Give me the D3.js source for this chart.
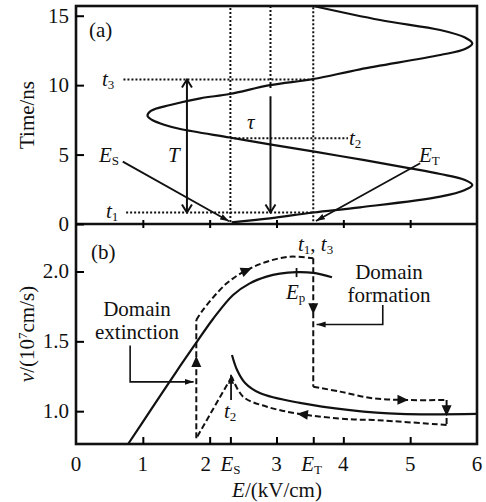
<!DOCTYPE html>
<html>
<head>
<meta charset="utf-8">
<script src="https://cdn.jsdelivr.net/npm/d3@7"></script>
<style>
  body { margin: 0; background: #fff; }
  svg text { font-family: "Liberation Serif", "DejaVu Serif", serif; fill: #111; }
</style>
</head>
<body>
<div class="container"></div>
<script>
// (a) field across the sample vs time
const fieldT = [0.12, 0.41, 0.83, 1.2, 1.97, 2.45, 2.81, 3.17, 3.6, 4.01, 4.9, 5.74, 6.23, 6.84, 7.13, 7.49, 7.78,
  8.14, 8.57, 9.05, 9.36, 10.0, 10.44, 11.14, 12.17, 12.6, 13.0, 13.43, 13.97, 14.69, 15.7];
const fieldE = [2.33, 2.9, 3.55, 4.25, 5.45, 5.82, 5.93, 5.82, 5.45, 5.0, 3.95, 2.9, 2.3, 1.56, 1.33, 1.14, 1.07,
  1.12, 1.41, 1.86, 2.3, 2.9, 3.55, 4.25, 5.45, 5.82, 5.93, 5.82, 5.45, 4.55, 3.55];

// (b) velocity-field characteristic, two solid branches
const riseE = [0.78, 1.107, 1.5, 1.8, 2.05, 2.35, 2.6, 2.85, 3.05, 3.3, 3.55, 3.83];
const riseV = [0.765, 1.0, 1.282, 1.49, 1.66, 1.832, 1.915, 1.963, 1.985, 1.995, 1.99, 1.959];
const lowE = [2.334, 2.41, 2.53, 2.75, 3.35, 4.1, 4.85, 6.0];
const lowV = [1.402, 1.295, 1.202, 1.13, 1.059, 1.008, 0.98, 0.98];

// (b) dashed operating path
const pathUpE = [1.8, 1.8, 1.9, 2.255, 2.555, 2.855, 3.2, 3.55, 3.55];
const pathUpV = [0.806, 1.653, 1.725, 1.915, 2.01, 2.07, 2.106, 2.094, 1.175];
const pathLowE = [3.55, 3.95, 4.45, 4.95, 5.545, 5.545, 4.45, 4.1, 3.35, 2.855, 2.5, 2.33, 1.8];
const pathLowV = [1.175, 1.14, 1.092, 1.08, 1.08, 0.901, 0.937, 0.942, 0.98, 1.032, 1.104, 1.247, 0.806];

const xTicks = [0, 1, 2, 3, 4, 5, 6];
const tTicks = [0, 5, 10, 15];
const vTicks = [1.0, 1.5, 2.0];
const Es = 2.31, Et = 3.55, Ep = 3.3;
const t1 = 0.83, t2 = 6.17, t3 = 10.4;

const width = 486, height = 502;
const svg = d3.select(".container").append("svg")
  .attr("width", width).attr("height", height);

const x = d3.scaleLinear().domain([0, 6]).range([76, 477]);
const yT = d3.scaleLinear().domain([0, 15.7]).range([224, 6]);
const yB = d3.scaleLinear().domain([0.765, 2.34]).range([444, 224]);

const defs = svg.append("defs");
defs.append("marker").attr("id", "open").attr("viewBox", "-10 -6 12 12")
  .attr("refX", 0).attr("refY", 0).attr("markerWidth", 12).attr("markerHeight", 12)
  .attr("markerUnits", "userSpaceOnUse").attr("orient", "auto-start-reverse")
  .append("path").attr("d", "M-8,-5 L0,0 L-8,5").attr("fill", "none")
  .attr("stroke", "#111").attr("stroke-width", 2);
defs.append("marker").attr("id", "solid").attr("viewBox", "-9 -4 10 8")
  .attr("refX", 0).attr("refY", 0).attr("markerWidth", 10).attr("markerHeight", 8)
  .attr("markerUnits", "userSpaceOnUse").attr("orient", "auto")
  .append("path").attr("d", "M-9,-3 L0,0 L-9,3 Z").attr("fill", "#111");

const ink = "#111";
const line = (g, pts, opts) => {
  const p = g.append("path").attr("d", d3.line()(pts)).attr("fill", "none")
    .attr("stroke", ink).attr("stroke-width", opts.w || 1.6);
  if (opts.dash) p.attr("stroke-dasharray", opts.dash);
  if (opts.end) p.attr("marker-end", `url(#${opts.end})`);
  if (opts.start) p.attr("marker-start", `url(#${opts.start})`);
  return p;
};
const tri = (px, py, qx, qy) => {
  const a = Math.atan2(qy - py, qx - px) * 180 / Math.PI;
  svg.append("path").attr("d", "M5,0 L-6,-5 L-6,5 Z").attr("fill", ink)
    .attr("transform", `translate(${px},${py}) rotate(${a})`);
};
const label = (g, px, py, parts, size, anchor) => {
  const t = g.append("text").attr("x", px).attr("y", py).attr("font-size", size || 16)
    .attr("text-anchor", anchor || "start");
  parts.forEach((p) => {
    const s = t.append("tspan").text(p.s);
    if (p.i) s.attr("font-style", "italic");
    if (p.sub) s.attr("font-size", (size || 16) * 0.62).attr("dy", 3);
    if (p.sup) s.attr("font-size", (size || 16) * 0.62).attr("dy", -7);
    if (p.dy) s.attr("dy", p.dy);
  });
  return t;
};

// ---------- panel (a) ----------
const ga = svg.append("g");
const dot = "2,2";
line(ga, [[x(Es), yT(0.15)], [x(Es), yT(15.7)]], { dash: dot, w: 2 });
line(ga, [[x(2.91), yT(15.7)], [x(2.91), yT(9.7)]], { dash: dot, w: 2 });
line(ga, [[x(Et), yT(0.2)], [x(Et), yT(15.7)]], { dash: dot, w: 2 });
line(ga, [[x(0.71), yT(t3)], [x(Et), yT(t3)]], { dash: dot, w: 2 });
line(ga, [[x(0.75), yT(t1)], [x(Et), yT(t1)]], { dash: dot, w: 2 });
line(ga, [[x(Es), yT(t2)], [x(4.07), yT(t2)]], { dash: dot, w: 2 });

ga.append("path")
  .attr("d", d3.line().x((d) => x(d[0])).y((d) => yT(d[1])).curve(d3.curveCatmullRom.alpha(0.5))(
    fieldE.map((e, i) => [e, fieldT[i]])))
  .attr("fill", "none").attr("stroke", ink).attr("stroke-width", 2.2);

// T and tau arrows
line(ga, [[x(1.66), yT(t1)], [x(1.66), yT(t3)]], { w: 2, start: "open", end: "open" });
line(ga, [[x(2.91), yT(9.2)], [x(2.91), yT(t1)]], { w: 2, end: "open" });
// E_S, E_T leaders
line(ga, [[x(0.7), yT(4.49)], [x(2.29), yT(0.2)]], { w: 1.8, end: "solid" });
line(ga, [[x(5.15), yT(4.37)], [x(3.59), yT(0.22)]], { w: 1.8, end: "solid" });

const fa = 21;
label(ga, 89, 37, [{ s: "(a)" }], fa);
label(ga, 99, 162, [{ s: "E", i: 1 }, { s: "S", sub: 1 }], fa);
label(ga, 419, 162, [{ s: "E", i: 1 }, { s: "T", sub: 1 }], fa);
label(ga, 102, 86, [{ s: "t", i: 1 }, { s: "3", sub: 1 }], fa);
label(ga, 106, 218, [{ s: "t", i: 1 }, { s: "1", sub: 1 }], fa);
label(ga, 349, 145, [{ s: "t", i: 1 }, { s: "2", sub: 1 }], fa);
label(ga, 168, 162, [{ s: "T", i: 1 }], fa);
label(ga, 247, 129, [{ s: "τ", i: 1 }], fa);

// ---------- panel (b) ----------
const gb = svg.append("g");
const lineB = d3.line().x((d) => x(d[0])).y((d) => yB(d[1]));
const smooth = lineB.curve(d3.curveCatmullRom.alpha(0.5));
gb.append("path").attr("d", smooth(riseE.map((e, i) => [e, riseV[i]])))
  .attr("fill", "none").attr("stroke", ink).attr("stroke-width", 2.2);
gb.append("path").attr("d", smooth(lowE.map((e, i) => [e, lowV[i]])))
  .attr("fill", "none").attr("stroke", ink).attr("stroke-width", 2.2);

const dash = "6,3";
const upPts = pathUpE.map((e, i) => [e, pathUpV[i]]);
line(gb, [[x(upPts[0][0]), yB(upPts[0][1])], [x(upPts[1][0]), yB(upPts[1][1])]], { dash: dash, w: 2 });
gb.append("path").attr("d", smooth(upPts.slice(1, 8)))
  .attr("fill", "none").attr("stroke", ink).attr("stroke-width", 2).attr("stroke-dasharray", dash);
line(gb, [[x(Et), yB(upPts[7][1])], [x(Et), yB(upPts[8][1])]], { dash: dash, w: 2 });

const lowPts = pathLowE.map((e, i) => [e, pathLowV[i]]);
gb.append("path").attr("d", smooth(lowPts.slice(0, 5)))
  .attr("fill", "none").attr("stroke", ink).attr("stroke-width", 2).attr("stroke-dasharray", dash);
line(gb, [[x(lowPts[4][0]), yB(lowPts[4][1])], [x(lowPts[5][0]), yB(lowPts[5][1])]], { dash: dash, w: 2 });
gb.append("path").attr("d", smooth(lowPts.slice(5, 12)))
  .attr("fill", "none").attr("stroke", ink).attr("stroke-width", 2).attr("stroke-dasharray", dash);
line(gb, [[x(lowPts[11][0]), yB(lowPts[11][1])], [x(lowPts[12][0]), yB(lowPts[12][1])]], { dash: dash, w: 2 });

// direction triangles on the dashed path
tri(x(1.8), yB(1.36), x(1.8), yB(1.6));
tri(x(2.56), yB(2.01), x(2.86), yB(2.07));
tri(x(Et), yB(1.73), x(Et), yB(1.4));
tri(x(4.9), yB(1.081), x(5.3), yB(1.08));
tri(x(5.545), yB(1.0), x(5.545), yB(0.9));
tri(x(3.38), yB(0.978), x(3.0), yB(0.998));

// E_p tick, t2 arrow
line(gb, [[x(Ep), yB(2.025)], [x(Ep), yB(1.96)]], { w: 1.8 });
line(gb, [[x(2.32), yB(1.08)], [x(2.32), yB(1.26)]], { w: 1.8, end: "solid" });

// leaders
line(gb, [[x(0.81), yB(1.47)], [x(0.81), yB(1.21)], [x(1.76), yB(1.21)]], { w: 1.6, end: "solid" });
line(gb, [[x(4.59), yB(1.76)], [x(4.59), yB(1.62)], [x(3.6), yB(1.62)]], { w: 1.6, end: "solid" });

label(gb, 91, 259, [{ s: "(b)" }], fa);
label(gb, 137, 316, [{ s: "Domain" }], fa, "middle");
label(gb, 137, 339, [{ s: "extinction" }], fa, "middle");
label(gb, 389, 279, [{ s: "Domain" }], fa, "middle");
label(gb, 389, 302, [{ s: "formation" }], fa, "middle");
label(gb, 298, 251, [{ s: "t", i: 1 }, { s: "1", sub: 1 }, { s: ", ", dy: -3 }, { s: "t", i: 1 }, { s: "3", sub: 1 }], fa);
label(gb, 286, 299, [{ s: "E", i: 1 }, { s: "p", sub: 1 }], fa);
label(gb, 224, 418, [{ s: "t", i: 1 }, { s: "2", sub: 1 }], fa);

// ---------- frames, ticks, labels ----------
const frame = svg.append("g");
frame.append("rect").attr("x", x(0)).attr("y", yT(15.7)).attr("width", x(6) - x(0))
  .attr("height", yB(0.765) - yT(15.7)).attr("fill", "none").attr("stroke", ink).attr("stroke-width", 2.6);
line(frame, [[x(0), 224], [x(6), 224]], { w: 2.6 });

const tickA = d3.axisBottom(x).tickValues(xTicks.slice(1, 6)).tickSize(8).tickFormat("");
frame.append("g").attr("transform", "translate(0,220)").call(tickA)
  .call((g) => g.select(".domain").remove())
  .call((g) => g.selectAll("line").attr("stroke-width", 2));

const tickB = d3.axisTop(x).tickValues(xTicks.slice(1, 6).concat([Es, Et])).tickSize(7).tickFormat("");
frame.append("g").attr("transform", `translate(0,${yB(0.765)})`).call(tickB)
  .call((g) => g.select(".domain").remove())
  .call((g) => g.selectAll("line").attr("stroke-width", 2));

const yaxA = d3.axisRight(yT).tickValues(tTicks).tickSize(8).tickFormat("");
frame.append("g").attr("transform", `translate(${x(0)},0)`).call(yaxA)
  .call((g) => g.select(".domain").remove())
  .call((g) => g.selectAll("line").attr("stroke-width", 2));
const yaxB = d3.axisRight(yB).tickValues(vTicks).tickSize(8).tickFormat("");
frame.append("g").attr("transform", `translate(${x(0)},0)`).call(yaxB)
  .call((g) => g.select(".domain").remove())
  .call((g) => g.selectAll("line").attr("stroke-width", 2));

const fs = 21;
tTicks.forEach((v) => {
  svg.append("text").attr("x", 69).attr("y", yT(v) + 7).attr("text-anchor", "end")
    .attr("font-size", fs).text(v);
});
vTicks.forEach((v) => {
  svg.append("text").attr("x", 69).attr("y", yB(v) + 7).attr("text-anchor", "end")
    .attr("font-size", fs).text(v.toFixed(1));
});
xTicks.forEach((v) => {
  svg.append("text").attr("x", x(v) + (v === 2 ? -4 : 0)).attr("y", 471).attr("text-anchor", "middle")
    .attr("font-size", fs).text(v);
});
label(svg, x(Es) - 10, 471, [{ s: "E", i: 1 }, { s: "S", sub: 1 }], fs);
label(svg, x(Et) - 12, 471, [{ s: "E", i: 1 }, { s: "T", sub: 1 }], fs);
label(svg, 277, 497, [{ s: "E", i: 1 }, { s: "/(kV/cm)" }], fs, "middle");

label(svg, 0, 0, [{ s: "Time/ns" }], fs, "middle").attr("transform", "translate(34,115) rotate(-90)");
label(svg, 0, 0, [{ s: "ν", i: 1 }, { s: "/(10" }, { s: "7", sup: 1 }, { s: "cm/s)", dy: 7 }], fs, "middle")
  .attr("transform", "translate(34,334) rotate(-90)");
</script>
</body>
</html>
